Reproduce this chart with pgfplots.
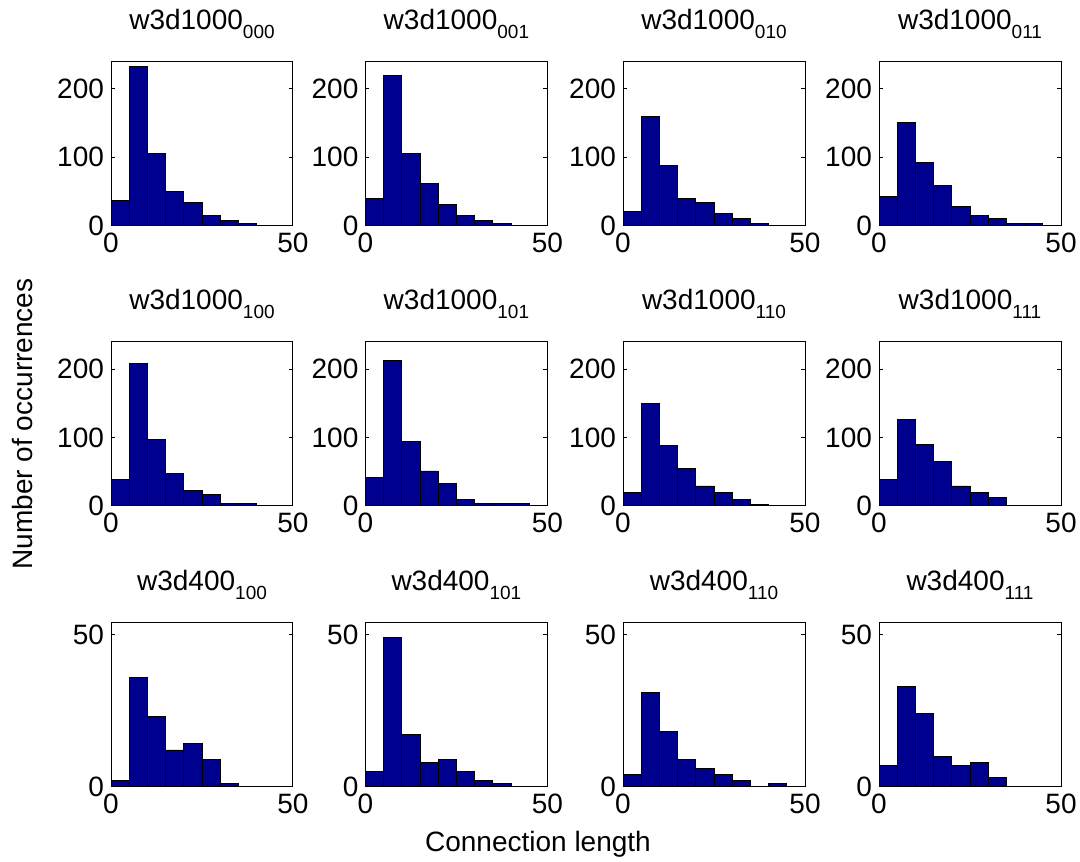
\documentclass[border=0pt]{standalone}
\usepackage{fontspec}
\setmainfont{Liberation Sans}
\usepackage{pgfplots}
\pgfplotsset{compat=1.18}

\definecolor{histblue}{rgb}{0,0,0.5625}
\newcommand{\fs}{\fontsize{14}{16}\selectfont}
\newcommand{\sub}[1]{\raisebox{-4.5pt}{\fontsize{9.5}{10}\selectfont #1}}

\pgfplotsset{
  hist/.style={
    scale only axis, width=91pt, height=82pt,
    anchor=north west,
    xmin=0, xmax=50, ymin=0,
    xtick={0,50},
    tick align=inside,
    major tick length=2pt,
    axis line style={line width=0.5pt},
    every tick/.style={black, line width=0.5pt},
    /pgf/number format/assume math mode=true,
    tick label style={font=\fs},
    title style={font=\fs, at={(0.5,1)}, anchor=base, inner sep=0pt, yshift=10pt},
  },
  rowa/.style={hist, ymax=240, ytick={0,100,200}},
  rowc/.style={hist, ymax=54, ytick={0,50}},
  bars/.style={ybar interval, fill=histblue, draw=black, line width=0.45pt},
}

\begin{document}
\begin{tikzpicture}
\path[use as bounding box] (0pt,0pt) rectangle (540pt,-430.5pt);

% row 1
\begin{axis}[rowa, at={(55.5pt,-30.7pt)}, title={w3d1000\sub{000}}]
\addplot[bars] coordinates {(0,36) (5,233) (10,105) (15,49) (20,33) (25,14) (30,7) (35,3) (40,0)};
\end{axis}
\begin{axis}[rowa, at={(182.7pt,-30.7pt)}, title={w3d1000\sub{001}}]
\addplot[bars] coordinates {(0,40) (5,220) (10,105) (15,62) (20,30) (25,14) (30,7) (35,3) (40,0)};
\end{axis}
\begin{axis}[rowa, at={(311.5pt,-30.7pt)}, title={w3d1000\sub{010}}]
\addplot[bars] coordinates {(0,20) (5,160) (10,88) (15,40) (20,33) (25,17) (30,10) (35,3) (40,0)};
\end{axis}
\begin{axis}[rowa, at={(439.5pt,-30.7pt)}, title={w3d1000\sub{011}}]
\addplot[bars] coordinates {(0,43) (5,151) (10,92) (15,59) (20,27) (25,14) (30,10) (35,3) (40,3) (45,0)};
\end{axis}

% row 2
\begin{axis}[rowa, at={(55.5pt,-170.9pt)}, title={w3d1000\sub{100}}]
\addplot[bars] coordinates {(0,38) (5,208) (10,97) (15,48) (20,22) (25,16) (30,3) (35,3) (40,0)};
\end{axis}
\begin{axis}[rowa, at={(182.7pt,-170.9pt)}, title={w3d1000\sub{101}}]
\addplot[bars] coordinates {(0,42) (5,212) (10,94) (15,51) (20,32) (25,9) (30,3) (35,3) (40,3) (45,0)};
\end{axis}
\begin{axis}[rowa, at={(311.5pt,-170.9pt)}, title={w3d1000\sub{110}}]
\addplot[bars] coordinates {(0,19) (5,150) (10,88) (15,55) (20,29) (25,19) (30,9) (35,2) (40,0)};
\end{axis}
\begin{axis}[rowa, at={(439.5pt,-170.9pt)}, title={w3d1000\sub{111}}]
\addplot[bars] coordinates {(0,38) (5,127) (10,90) (15,65) (20,29) (25,19) (30,12) (35,0)};
\end{axis}

% row 3
\begin{axis}[rowc, at={(55.5pt,-311.2pt)}, title={w3d400\sub{100}}]
\addplot[bars] coordinates {(0,2) (5,36) (10,23) (15,12) (20,14) (25,9) (30,1) (35,0)};
\end{axis}
\begin{axis}[rowc, at={(182.7pt,-311.2pt)}, title={w3d400\sub{101}}]
\addplot[bars] coordinates {(0,5) (5,49) (10,17) (15,8) (20,9) (25,5) (30,2) (35,1) (40,0)};
\end{axis}
\begin{axis}[rowc, at={(311.5pt,-311.2pt)}, title={w3d400\sub{110}}]
\addplot[bars] coordinates {(0,4) (5,31) (10,18) (15,9) (20,6) (25,4) (30,2) (35,0) (40,1) (45,0)};
\end{axis}
\begin{axis}[rowc, at={(439.5pt,-311.2pt)}, title={w3d400\sub{111}}]
\addplot[bars] coordinates {(0,7) (5,33) (10,24) (15,10) (20,7) (25,8) (30,3) (35,0)};
\end{axis}

% shared labels
\node[font=\fs, rotate=90] at (11pt,-212pt) {Number of occurrences};
\node[font=\fs] at (269pt,-422pt) {Connection length};
\end{tikzpicture}
\end{document}
